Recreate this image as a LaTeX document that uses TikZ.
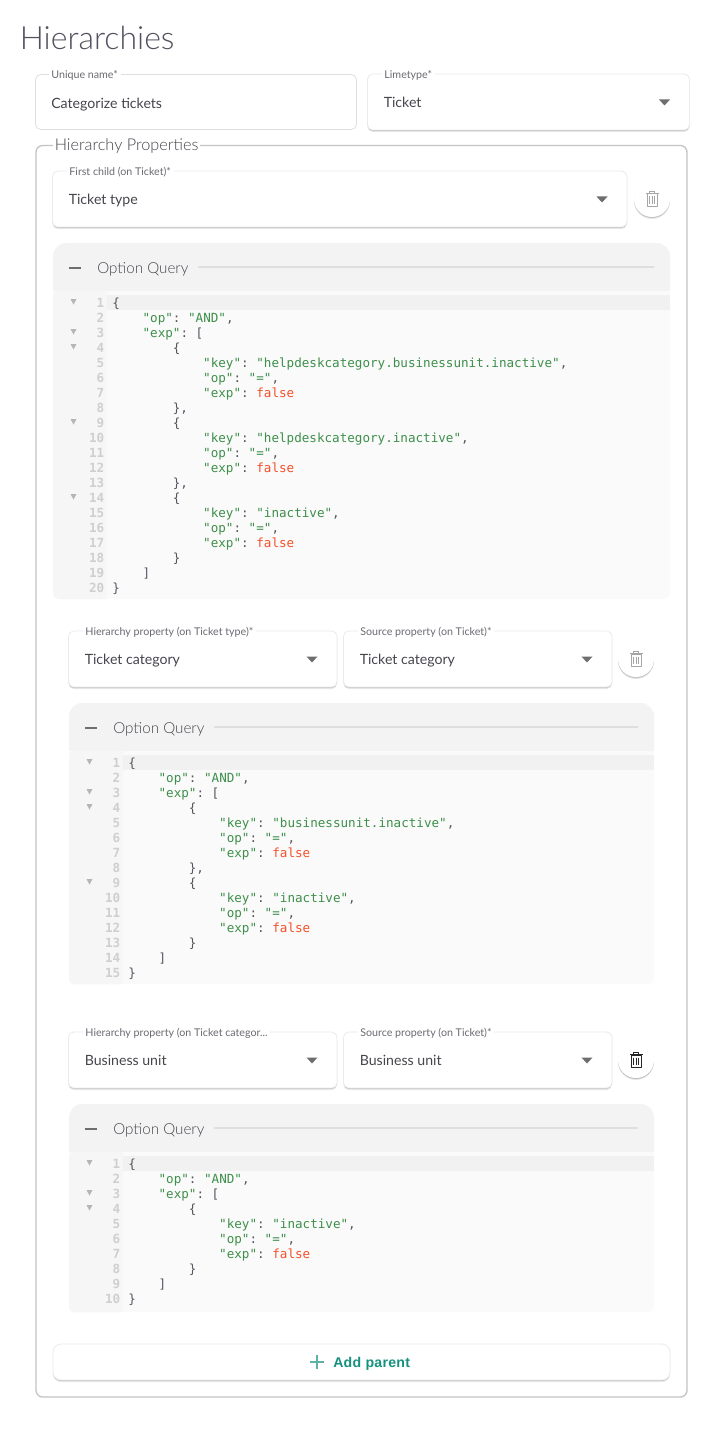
\documentclass[tikz,border=0pt]{standalone}
\usepackage{fontspec}
\setmainfont{Lato}
\setmonofont{DejaVu Sans Mono}
\newfontfamily\lightfont{Lato Light}
\newfontfamily\addfont[LetterSpace=2]{Liberation Sans}
\usetikzlibrary{shadows}

\definecolor{titlegrey}{HTML}{50505F}
\definecolor{labelgrey}{HTML}{6A6A72}
\definecolor{textgrey}{HTML}{45454D}
\definecolor{linegrey}{HTML}{DEDEDE}
\definecolor{framegrey}{HTML}{C4C4C4}
\definecolor{arrowgrey}{HTML}{6E6E6E}
\definecolor{querygrey}{HTML}{F3F3F3}
\definecolor{codegrey}{HTML}{FAFAFA}
\definecolor{guttergrey}{HTML}{F6F6F6}
\definecolor{activegrey}{HTML}{F1F1F1}
\definecolor{numgrey}{HTML}{CFCFCF}
\definecolor{foldgrey}{HTML}{B5B5B5}
\definecolor{jsonstr}{HTML}{3D8F4A}
\definecolor{jsonfalse}{HTML}{F4502A}
\definecolor{jsonpunct}{HTML}{55555F}
\definecolor{addteal}{HTML}{16917F}

\tikzset{
  softshadow/.style={
    drop shadow={shadow xshift=0pt, shadow yshift=-1.5pt, opacity=.1, fill=black},
    drop shadow={shadow xshift=0pt, shadow yshift=-.7pt, opacity=.16, fill=black}},
  fieldbox/.style={draw=linegrey, fill=white, rounded corners=4, line width=.6pt},
  raisedbox/.style={softshadow, fieldbox, draw=linegrey!60},
  fieldlabel/.style={anchor=base west, fill=white, inner xsep=2, inner ysep=1, text=labelgrey, font=\fontsize{8}{9}\selectfont},
  fieldvalue/.style={anchor=base west, inner sep=0, text=textgrey, font=\fontsize{10.6}{12}\selectfont},
  codetext/.style={anchor=base west, inner sep=0, text=jsonpunct, font=\ttfamily\fontsize{9.45}{11}\selectfont},
  codenum/.style={anchor=base east, inner sep=0, text=numgrey, font=\ttfamily\bfseries\fontsize{9.45}{11}\selectfont},
  querytitle/.style={anchor=base west, inner sep=0, text=textgrey, font=\lightfont\fontsize{11.4}{13}\selectfont}
}

\newcommand{\qs}[1]{\textcolor{jsonstr}{"#1"}}
\newcommand{\qfalse}{\textcolor{jsonfalse}{false}}
\newcommand{\opand}{\qs{op}: \qs{AND},}
\newcommand{\exparr}{\qs{exp}: [}
\newcommand{\opeq}{\qs{op}: \qs{=},}
\newcommand{\expfalse}{\qs{exp}: \qfalse}
\newcommand{\keyline}[1]{\qs{key}: \qs{#1},}

% name, x1, y1, x2, label, value
\newcommand{\selectbox}[6]{
  \draw[raisedbox] (#2,#3) rectangle (#4,#3+56);
  \node[fieldlabel] (#1label) at (#2+14,#3+4.5) {#5};
  \node[fieldvalue] (#1value) at (#2+16,#3+33.5) {#6};
  \fill[arrowgrey] (#4-30.5,#3+25.5) -- (#4-19.5,#3+25.5) -- (#4-25,#3+31.5) -- cycle;
}

% x, y, colour of the can
\newcommand{\trashbutton}[3]{
  \draw[draw=none, fill=white, softshadow] (#1,#2) circle (18);
  \draw[#3, line width=.75pt, line join=round] (#1-5,#2-5) -- (#1-5,#2+7.5) -- (#1+5,#2+7.5) -- (#1+5,#2-5) -- cycle
        (#1-6.5,#2-5.5) -- (#1+6.5,#2-5.5)
        (#1-2.5,#2-5.5) -- (#1-2.5,#2-7.5) -- (#1+2.5,#2-7.5) -- (#1+2.5,#2-5.5)
        (#1-2.2,#2-2.5) -- (#1-2.2,#2+5)
        (#1,#2-2.5) -- (#1,#2+5)
        (#1+2.2,#2-2.5) -- (#1+2.2,#2+5);
}

% name, x1, y1, x2, y2, fold lines, code lines
\newcommand{\querypanel}[7]{
  \fill[querygrey, rounded corners=10] (#2,#3) rectangle (#4,#3+60);
  \fill[codegrey, rounded corners=4] (#2,#3+48) rectangle (#4,#5);
  \fill[codegrey] (#2,#3+48) rectangle (#4,#3+60);
  \fill[guttergrey, rounded corners=4] (#2,#3+48) rectangle (#2+54,#5);
  \fill[guttergrey] (#2+8,#3+48) rectangle (#2+54,#5);
  \fill[activegrey] (#2+54,#3+52) rectangle (#4,#3+67);
  \draw[arrowgrey, line width=1.5pt] (#2+16,#3+25) -- (#2+28,#3+25);
  \node[querytitle] (#1title) at (#2+44,#3+30.5) {Option Query};
  \draw[linegrey, line width=1.5pt] (#2+145,#3+24) -- (#4-16,#3+24);
  \foreach \n in {#6}
    \fill[foldgrey] (#2+17.5,#3+56+\n*15-15) -- (#2+23.5,#3+56+\n*15-15) -- (#2+20.5,#3+61.5+\n*15-15) -- cycle;
  \foreach \n/\ind/\txt in {#7} {
    \node[codenum] (#1num\n) at (#2+51.5,#3+64.5+\n*15-15) {\n};
    \node[codetext] (#1line\n) at (#2+59+\ind*7.58,#3+64.5+\n*15-15) {\txt};
  }
}

\begin{document}
\begin{tikzpicture}[x=.75pt, y=-.75pt]
\useasboundingbox (0,0) rectangle (718,1430);
\fill[white] (0,0) rectangle (718,1430);

\node[anchor=base west, inner sep=0, text=titlegrey, font=\lightfont\fontsize{24}{28}\selectfont] (title) at (19.5,50) {Hierarchies};

\draw[fieldbox, fill=white] (35.5,74.5) rectangle (356.5,129.5);
\node[fieldlabel] (uniquelabel) at (48.5,78.5) {Unique name*};
\node[fieldvalue] (uniquevalue) at (51,109) {Categorize tickets};
\selectbox{limetype}{367.5}{74}{689.5}{Limetype*}{Ticket}

\draw[framegrey, line width=1pt, rounded corners=5] (36,145.5) rectangle (687,1397);
\node[anchor=base west, fill=white, inner xsep=1.5, inner ysep=1, text=textgrey, font=\lightfont\fontsize{12.2}{14}\selectfont] (propslabel) at (52.5,151) {Hierarchy Properties};

\selectbox{firstchild}{52.5}{171}{627}{First child (on Ticket)*}{Ticket type}
\trashbutton{652}{199}{black!35}

\querypanel{first}{53}{243}{670}{599}{1,3,4,9,14}{
  1/0/\{,
  2/4/\opand,
  3/4/\exparr,
  4/8/\{,
  5/12/\keyline{helpdeskcategory.businessunit.inactive},
  6/12/\opeq,
  7/12/\expfalse,
  8/8/{\},},
  9/8/\{,
  10/12/\keyline{helpdeskcategory.inactive},
  11/12/\opeq,
  12/12/\expfalse,
  13/8/{\},},
  14/8/\{,
  15/12/\keyline{inactive},
  16/12/\opeq,
  17/12/\expfalse,
  18/8/\},
  19/4/],
  20/0/\}}

\selectbox{hierone}{68.5}{631}{337}{Hierarchy property (on Ticket type)*}{Ticket category}
\selectbox{sourceone}{343.5}{631}{612}{Source property (on Ticket)*}{Ticket category}
\trashbutton{636}{659}{black!35}

\querypanel{second}{69}{703}{654}{984}{1,3,4,9}{
  1/0/\{,
  2/4/\opand,
  3/4/\exparr,
  4/8/\{,
  5/12/\keyline{businessunit.inactive},
  6/12/\opeq,
  7/12/\expfalse,
  8/8/{\},},
  9/8/\{,
  10/12/\keyline{inactive},
  11/12/\opeq,
  12/12/\expfalse,
  13/8/\},
  14/4/],
  15/0/\}}

\selectbox{hiertwo}{68.5}{1032}{337}{Hierarchy property (on Ticket categor...}{Business unit}
\selectbox{sourcetwo}{343.5}{1032}{612}{Source property (on Ticket)*}{Business unit}
\trashbutton{636}{1060}{black!85}

\querypanel{third}{69}{1104}{654}{1312}{1,3,4}{
  1/0/\{,
  2/4/\opand,
  3/4/\exparr,
  4/8/\{,
  5/12/\keyline{inactive},
  6/12/\opeq,
  7/12/\expfalse,
  8/8/\},
  9/4/],
  10/0/\}}

\draw[raisedbox, rounded corners=6] (53,1344) rectangle (670,1380);
\draw[addteal!70, line width=1.1pt] (310,1362) -- (324,1362) (317,1355) -- (317,1369);
\node[anchor=base west, inner sep=0, text=addteal, font=\addfont\bfseries\fontsize{10.6}{12}\selectfont] (addparent) at (333,1367) {Add parent};
\end{tikzpicture}
\end{document}
